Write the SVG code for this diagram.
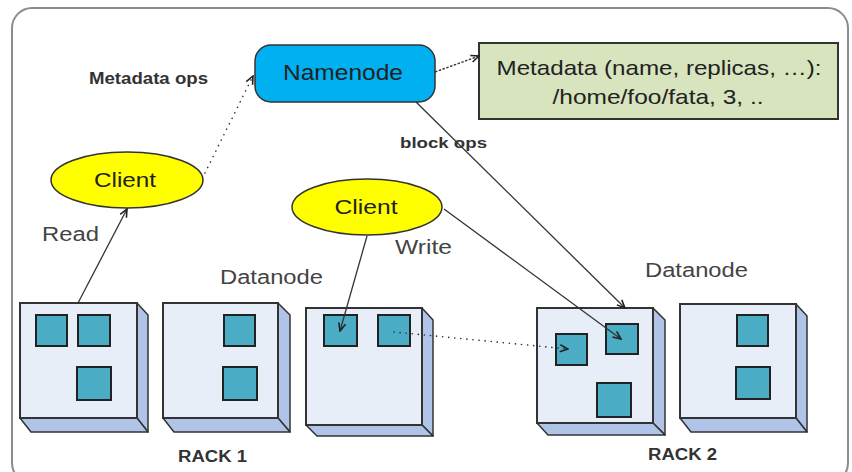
<svg xmlns="http://www.w3.org/2000/svg" width="852" height="472" viewBox="0 0 852 472">
<style>
.frame{fill:#fff;stroke:#8c8c8c;stroke-width:2}
.nn{fill:#00b0f0;stroke:#333;stroke-width:1.5}
.meta{fill:#d7e4bd;stroke:#333;stroke-width:2}
.cl{fill:#ffff00;stroke:#333;stroke-width:1.5}
.front{fill:#e8eef8;stroke:#333;stroke-width:2}
.side{fill:#b0c4e8;stroke:#333;stroke-width:1.5;stroke-linejoin:round}
.blk{fill:#4bacc6;stroke:#222;stroke-width:2}
.t{font-family:"Liberation Sans",Arial,sans-serif;fill:#222}
.lbl{font-family:"Liberation Sans",Arial,sans-serif;fill:#444}
.b{font-family:"Liberation Sans",Arial,sans-serif;font-weight:bold;fill:#333}
.ln{fill:none;stroke:#333;stroke-width:1.3}
.dot{fill:none;stroke:#333;stroke-width:1.6;stroke-dasharray:0.1 6;stroke-linecap:round}
.dash{fill:none;stroke:#333;stroke-width:1.4;stroke-dasharray:2.5 1.5}
</style>
<defs>
<marker id="arr" viewBox="0 0 10 10" refX="9" refY="5" markerWidth="10" markerHeight="10" orient="auto" markerUnits="userSpaceOnUse">
<path d="M1,1.5 L9,5 L1,8.5" fill="none" stroke="#222" stroke-width="1.6"/>
</marker>
</defs>
<rect class="frame" x="12" y="8" width="836" height="475" rx="20"/>

<g id="namenode">
<rect class="nn" x="255" y="45" width="180" height="57" rx="16"/>
<text class="t" x="343" y="80" font-size="22" text-anchor="middle" textLength="120" lengthAdjust="spacingAndGlyphs">Namenode</text>
</g>

<g id="metadata">
<rect class="meta" x="479" y="43" width="359" height="76"/>
<text class="t" x="659" y="75" font-size="21" text-anchor="middle" textLength="325" lengthAdjust="spacingAndGlyphs">Metadata (name, replicas, …):</text>
<text class="t" x="658" y="104" font-size="21" text-anchor="middle" textLength="211" lengthAdjust="spacingAndGlyphs">/home/foo/fata, 3, ..</text>
</g>

<g id="label-metadata-ops"><text class="b" x="89" y="84" font-size="16" textLength="119" lengthAdjust="spacingAndGlyphs">Metadata ops</text></g>
<g id="label-block-ops"><text class="b" x="400" y="148" font-size="15" textLength="87" lengthAdjust="spacingAndGlyphs">block ops</text></g>

<g id="client1">
<ellipse class="cl" cx="127" cy="180" rx="76" ry="28"/>
<text class="t" x="125" y="187" font-size="21" text-anchor="middle" textLength="62" lengthAdjust="spacingAndGlyphs">Client</text>
</g>
<g id="client2">
<ellipse class="cl" cx="367" cy="207" rx="75" ry="28"/>
<text class="t" x="366" y="214" font-size="21" text-anchor="middle" textLength="63" lengthAdjust="spacingAndGlyphs">Client</text>
</g>

<g id="label-read"><text class="lbl" x="42" y="241" font-size="20" textLength="57" lengthAdjust="spacingAndGlyphs">Read</text></g>
<g id="label-write"><text class="lbl" x="395" y="254" font-size="20" textLength="57" lengthAdjust="spacingAndGlyphs">Write</text></g>
<g id="label-datanode1"><text class="lbl" x="220" y="284" font-size="20" textLength="103" lengthAdjust="spacingAndGlyphs">Datanode</text></g>
<g id="label-datanode2"><text class="lbl" x="645" y="277" font-size="20" textLength="103" lengthAdjust="spacingAndGlyphs">Datanode</text></g>

<g id="dn1">
<path class="side" d="M137,303 L148,315 L148,432 L137,418 Z"/>
<path class="side" d="M20,418 L137,418 L148,432 L31,432 Z"/>
<rect class="front" x="20" y="303" width="117" height="115"/>
<rect class="blk" x="36" y="315" width="31" height="31"/>
<rect class="blk" x="78" y="315" width="32" height="31"/>
<rect class="blk" x="77" y="367" width="34" height="33"/>
</g>
<g id="dn2">
<path class="side" d="M278,303 L290,315 L290,432 L278,418 Z"/>
<path class="side" d="M163,418 L278,418 L290,432 L174,432 Z"/>
<rect class="front" x="163" y="303" width="115" height="115"/>
<rect class="blk" x="224" y="315" width="31" height="31"/>
<rect class="blk" x="223" y="367" width="34" height="33"/>
</g>
<g id="dn3">
<path class="side" d="M422,308 L433,320 L433,436 L422,425 Z"/>
<path class="side" d="M306,425 L422,425 L433,436 L317,436 Z"/>
<rect class="front" x="306" y="308" width="116" height="117"/>
<rect class="blk" x="324" y="315" width="33" height="31"/>
<rect class="blk" x="378" y="315" width="32" height="31"/>
</g>
<g id="dn4">
<path class="side" d="M653,308 L665,320 L665,435 L653,423 Z"/>
<path class="side" d="M537,423 L653,423 L665,435 L548,435 Z"/>
<rect class="front" x="537" y="308" width="116" height="115"/>
<rect class="blk" x="556" y="334" width="31" height="31"/>
<rect class="blk" x="606" y="324" width="32" height="30"/>
<rect class="blk" x="597" y="383" width="34" height="34"/>
</g>
<g id="dn5">
<path class="side" d="M796,304 L807,316 L807,432 L796,418 Z"/>
<path class="side" d="M680,418 L796,418 L807,432 L691,432 Z"/>
<rect class="front" x="680" y="304" width="116" height="114"/>
<rect class="blk" x="737" y="315" width="31" height="31"/>
<rect class="blk" x="736" y="367" width="34" height="32"/>
</g>

<g id="connectors">
<line class="dash" x1="435" y1="72" x2="479" y2="56" marker-end="url(#arr)"/>
<line class="dot" x1="205" y1="173" x2="253" y2="76" marker-end="url(#arr)"/>
<line class="ln" x1="416" y1="102" x2="625" y2="308" marker-end="url(#arr)"/>
<line class="ln" x1="78" y1="303" x2="127" y2="209" marker-end="url(#arr)"/>
<line class="ln" x1="367" y1="236" x2="340" y2="331" marker-end="url(#arr)"/>
<line class="ln" x1="444" y1="209" x2="621" y2="339" marker-end="url(#arr)"/>
<line class="dot" x1="394" y1="332" x2="568" y2="349" marker-end="url(#arr)"/>
</g>

<g id="label-rack1"><text class="b" x="178" y="462" font-size="16" textLength="69" lengthAdjust="spacingAndGlyphs">RACK 1</text></g>
<g id="label-rack2"><text class="b" x="648" y="460" font-size="16" textLength="69" lengthAdjust="spacingAndGlyphs">RACK 2</text></g>
</svg>
